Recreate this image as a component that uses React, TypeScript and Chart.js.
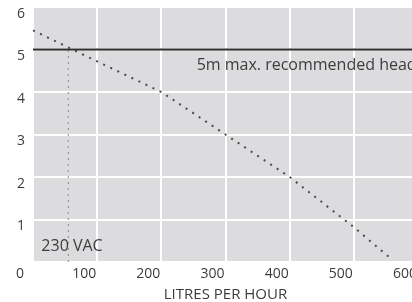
import React, { useEffect, useRef } from "react";
import { Chart, registerables } from "chart.js";

Chart.register(...registerables);

// Pump curve: flow (litres per hour) vs head (m)
const flowValues = [0, 100, 200, 300, 400, 500, 560];
const headValues = [5.45, 4.72, 4.0, 3.0, 2.0, 0.82, 0.05];

// Max recommended head line
const maxHead = 5;
const maxHeadFlowRange = [0, 600];

// 230 VAC operating flow marker
const vacFlow = 55;
const vacHeadRange = [0, 5];

const xTicks = [0, 100, 200, 300, 400, 500, 600];
const yTicks = [1, 2, 3, 4, 5, 6];

const annotationTexts = ["5m max. recommended head", "230 VAC"];
const annotationFlow = [255, 13];
const annotationHead = [4.63, 0.36];

const xTitle = "LITRES PER HOUR";

const FONT = "'Open Sans', 'DejaVu Sans', sans-serif";
const TEXT = "#3d3d3d";

const bgPlugin = {
  id: "plotBg",
  beforeDraw(chart: any) {
    const { ctx, chartArea } = chart;
    ctx.save();
    ctx.fillStyle = "#ffffff";
    ctx.fillRect(0, 0, chart.width, chart.height);
    ctx.fillStyle = "#dcdcde";
    ctx.fillRect(chartArea.left, chartArea.top, chartArea.right - chartArea.left, chartArea.bottom - chartArea.top);
    ctx.restore();
  },
};

const textPlugin = {
  id: "texts",
  afterDatasetsDraw(chart: any) {
    const { ctx, scales } = chart;
    ctx.save();
    ctx.font = `16px ${FONT}`;
    ctx.fillStyle = TEXT;
    ctx.textAlign = "left";
    ctx.textBaseline = "middle";
    annotationTexts.forEach((t, i) => {
      ctx.fillText(t, scales.x.getPixelForValue(annotationFlow[i]), scales.y.getPixelForValue(annotationHead[i]));
    });
    ctx.restore();
  },
};

export default function App() {
  const ref = useRef<HTMLCanvasElement>(null);
  useEffect(() => {
    if (!ref.current) return;
    const chart = new Chart(ref.current, {
      type: "line",
      data: {
        datasets: [
          {
            data: maxHeadFlowRange.map((f) => ({ x: f, y: maxHead })),
            borderColor: "#2e2e2e",
            borderWidth: 2,
            pointRadius: 0,
          },
          {
            data: vacHeadRange.map((h) => ({ x: vacFlow, y: h })),
            borderColor: "#8a8a8a",
            borderWidth: 1,
            borderDash: [2, 4],
            pointRadius: 0,
          },
          {
            data: flowValues.map((f, i) => ({ x: f, y: headValues[i] })),
            borderColor: "#4a4a4a",
            borderWidth: 2,
            borderDash: [2, 5.8],
            pointRadius: 0,
          },
        ],
      },
      options: {
        animation: false,
        responsive: false,
        layout: { padding: { top: 7, right: 7, left: 0, bottom: 0 } },
        plugins: { legend: { display: false }, tooltip: { enabled: false } },
        scales: {
          x: {
            type: "linear",
            min: 0,
            max: 600,
            afterBuildTicks: (s: any) => {
              s.ticks = xTicks.map((v) => ({ value: v }));
            },
            afterFit: (s: any) => {
              s.height = 40;
              s.paddingLeft = 0;
              s.paddingRight = 0;
            },
            grid: { color: "#ffffff", lineWidth: 2, drawTicks: false },
            border: { display: false },
            ticks: {
              autoSkip: false,
              maxRotation: 0,
              padding: 4,
              labelOffset: -13,
              color: TEXT,
              font: { family: FONT, size: 14 },
            },
            title: {
              display: true,
              text: xTitle,
              color: TEXT,
              font: { family: FONT, size: 15, lineHeight: 1 },
              padding: { top: 0, bottom: 0 },
            },
          },
          y: {
            type: "linear",
            min: 0,
            max: 6,
            afterBuildTicks: (s: any) => {
              s.ticks = [0, ...yTicks].map((v) => ({ value: v }));
            },
            afterFit: (s: any) => {
              s.width = 33;
              s.paddingTop = 0;
              s.paddingBottom = 0;
            },
            grid: { color: "#ffffff", lineWidth: 2, drawTicks: false },
            border: { display: false },
            ticks: {
              padding: 8,
              labelOffset: 7,
              color: TEXT,
              font: { family: FONT, size: 14 },
              callback: (v: any) => (yTicks.includes(Number(v)) ? String(v) : ""),
            },
          },
        },
      },
      plugins: [bgPlugin, textPlugin],
    });
    return () => chart.destroy();
  }, []);
  return (
    <div style={{ position: "fixed", left: 0, top: 0, width: 412, height: 302, overflow: "hidden", background: "#fff" }}>
      <canvas ref={ref} width={425} height={302} style={{ display: "block" }} />
    </div>
  );
}
